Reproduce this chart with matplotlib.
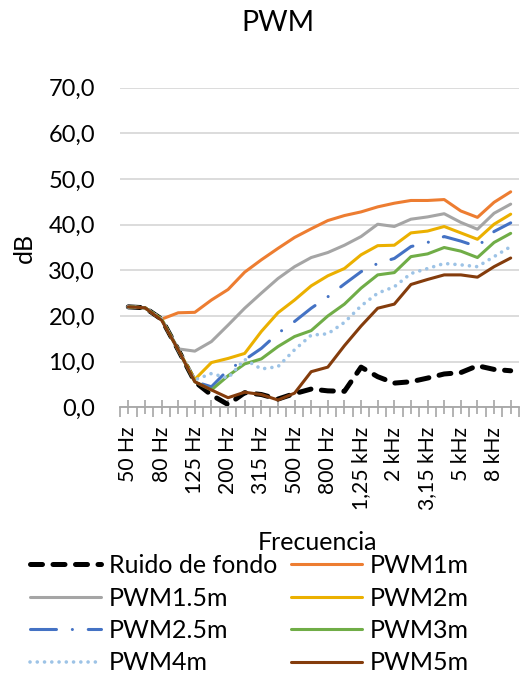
import matplotlib
matplotlib.use('Agg')
import matplotlib.pyplot as plt
from matplotlib.ticker import FixedLocator, FuncFormatter

plt.rcParams['font.family'] = ['Lato', 'DejaVu Sans']

# third-octave bands
bands = ['50 Hz', '63 Hz', '80 Hz', '100 Hz', '125 Hz', '160 Hz', '200 Hz', '250 Hz',
         '315 Hz', '400 Hz', '500 Hz', '630 Hz', '800 Hz', '1 kHz', '1,25 kHz', '1,6 kHz',
         '2 kHz', '2,5 kHz', '3,15 kHz', '4 kHz', '5 kHz', '6,3 kHz', '8 kHz', '10 kHz']

ruido = [22.0, 21.8, 19.3, 12.6, 5.6, 2.7, 0.6, 3.2, 2.8, 1.8, 3.0, 4.0,
         3.6, 3.5, 8.8, 6.7, 5.3, 5.6, 6.4, 7.3, 7.6, 9.1, 8.3, 8.0]
pwm1 = [22.0, 21.8, 19.3, 20.7, 20.8, 23.5, 25.8, 29.6, 32.3, 34.8, 37.2, 39.1,
        40.9, 42.0, 42.8, 43.9, 44.7, 45.3, 45.3, 45.5, 43.0, 41.6, 44.9, 47.2]
pwm15 = [22.0, 21.8, 19.3, 12.8, 12.3, 14.4, 18.0, 21.7, 25.0, 28.2, 30.8, 32.8,
         33.9, 35.5, 37.4, 40.1, 39.6, 41.2, 41.7, 42.4, 40.5, 39.0, 42.5, 44.5]
pwm2 = [22.0, 21.8, 19.3, 12.6, 6.1, 9.8, 10.7, 11.8, 16.6, 20.7, 23.5, 26.6,
        28.8, 30.4, 33.4, 35.4, 35.5, 38.2, 38.6, 39.6, 38.2, 36.8, 40.1, 42.3]
pwm25 = [22.0, 21.8, 19.3, 12.6, 5.6, 4.5, 8.2, 10.4, 12.9, 16.2, 18.8, 21.7,
         24.2, 27.0, 29.7, 31.5, 32.6, 35.2, 36.1, 37.4, 36.4, 35.2, 38.5, 40.4]
pwm3 = [22.0, 21.8, 19.3, 12.6, 5.6, 3.8, 6.9, 9.5, 10.6, 13.3, 15.5, 16.8,
        20.0, 22.6, 26.1, 29.0, 29.5, 33.0, 33.6, 35.0, 34.2, 32.8, 36.1, 38.1]
pwm4 = [22.0, 21.8, 19.3, 12.6, 6.0, 7.4, 6.4, 10.5, 8.4, 8.9, 12.6, 15.8,
        16.1, 18.6, 22.2, 25.0, 26.4, 29.3, 30.4, 31.5, 31.2, 30.8, 33.0, 35.2]
pwm5 = [22.0, 21.8, 19.1, 12.6, 5.6, 3.8, 2.1, 3.3, 2.8, 1.6, 3.1, 7.8,
        8.8, 13.5, 17.8, 21.7, 22.6, 26.9, 28.0, 29.0, 29.0, 28.5, 30.8, 32.7]

x = list(range(len(bands)))

fig = plt.figure(figsize=(5.2, 6.75), dpi=100)
ax = fig.add_axes([120 / 520, 1 - 407.3 / 675, 399 / 520, 319.6 / 675])

lw = 2.2
l0, = ax.plot(x, ruido, color='black', lw=3.6, dash_capstyle='round',
              label='Ruido de fondo')
l0.set_dashes([2.4, 2.1])
l1, = ax.plot(x, pwm1, color='#ED7D31', lw=lw, solid_capstyle='round', label='PWM1m')
l15, = ax.plot(x, pwm15, color='#A5A5A5', lw=lw, solid_capstyle='round', label='PWM1.5m')
l2, = ax.plot(x, pwm2, color='#EBB000', lw=lw, solid_capstyle='round', label='PWM2m')
l25, = ax.plot(x, pwm25, color='#4472C4', lw=lw, dash_capstyle='round', label='PWM2.5m')
l25.set_dashes([8.5, 5.2, 0.01, 5.2])
l3, = ax.plot(x, pwm3, color='#70AD47', lw=lw, solid_capstyle='round', label='PWM3m')
l4, = ax.plot(x, pwm4, color='#9DC3E6', lw=2.6, dash_capstyle='round', label='PWM4m')
l4.set_dashes([0.01, 2.0])
l5, = ax.plot(x, pwm5, color='#843C0C', lw=lw, solid_capstyle='round', label='PWM5m')

ax.set_xlim(-0.5, len(bands) - 0.5)
ax.set_ylim(0, 70)
ax.set_yticks(range(0, 71, 10))
ax.yaxis.set_major_formatter(FuncFormatter(lambda v, p: '{:.1f}'.format(v).replace('.', ',')))
ax.grid(axis='y', color='#D9D9D9', lw=1.3)
ax.set_axisbelow(True)

ax.xaxis.set_major_locator(FixedLocator(x))
ax.set_xticklabels([b if i % 2 == 0 else '' for i, b in enumerate(bands)], rotation=90)
ax.xaxis.set_minor_locator(FixedLocator([i - 0.5 for i in range(len(bands) + 1)]))
ax.tick_params(axis='x', which='major', direction='inout', length=10, width=1.2,
               color='#A6A6A6', pad=9, labelsize=15.2)
ax.tick_params(axis='x', which='minor', direction='out', length=7, width=1.2,
               color='#A6A6A6')
ax.tick_params(axis='y', length=0, pad=18, labelsize=17)

for s in ['top', 'right', 'left']:
    ax.spines[s].set_visible(False)
ax.spines['bottom'].set_color('#A6A6A6')
ax.spines['bottom'].set_linewidth(1.3)

fig.text(278 / 520, 1 - 23 / 675, 'PWM', ha='center', va='center', fontsize=20.5)
fig.text(24 / 520, 1 - 248 / 675, 'dB', ha='center', va='center', rotation=90, fontsize=18)
fig.text(318 / 520, 1 - 543 / 675, 'Frecuencia', ha='center', va='center', fontsize=18)

# row-wise order like the original legend
handles = [l0, l15, l25, l4, l1, l2, l3, l5]
ax.legend(handles=handles, ncol=2, loc='upper left',
          bbox_to_anchor=(30 / 520, 1 - 554 / 675),
          bbox_transform=fig.transFigure, frameon=False, fontsize=18,
          handlelength=2.85, handletextpad=0.3, columnspacing=0.55,
          labelspacing=0.38, borderpad=0, borderaxespad=0)

fig.savefig('out.png', dpi=100)
